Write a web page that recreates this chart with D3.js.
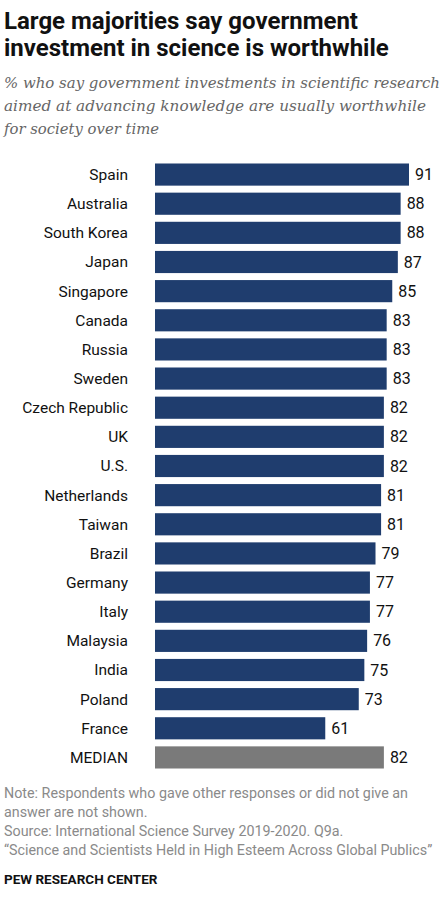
<!DOCTYPE html>
<html><head><meta charset="utf-8">
<script src="https://cdn.jsdelivr.net/npm/d3@7"></script>
<style>body{margin:0;background:#fff}</style>
</head><body>
<svg id="chart" width="443" height="900"></svg>
<script>
const countries = ['Spain','Australia','South Korea','Japan','Singapore','Canada','Russia','Sweden','Czech Republic','UK','U.S.','Netherlands','Taiwan','Brazil','Germany','Italy','Malaysia','India','Poland','France','MEDIAN'];
const values = [91,88,88,87,85,83,83,83,82,82,82,81,81,79,77,77,76,75,73,61,82];

const svg = d3.select('#chart');
const font = 'Roboto, "Liberation Sans", Arial, sans-serif';

const x = d3.scaleLinear().domain([0, 91]).range([155, 409]);
const y = d3.scaleBand().domain(countries).range([160, 772]).paddingInner(0.24).paddingOuter(0.12);

svg.selectAll('text.title').data(['Large majorities say government','investment in science is worthwhile'])
  .enter().append('text').attr('x', 4).attr('y', (d, i) => 29 + i * 27)
  .style('font', 'bold 24px ' + font).attr('fill', '#111').text(d => d);

const subLen = [436, 422, 155];
svg.selectAll('text.sub').data(['% who say government investments in scientific research','aimed at advancing knowledge are usually worthwhile','for society over time'])
  .enter().append('text').attr('x', 4).attr('y', (d, i) => 88 + i * 23)
  .style('font', 'italic 15px Georgia, "DejaVu Serif", serif').attr('fill', '#666')
  .attr('textLength', (d, i) => subLen[i]).attr('lengthAdjust', 'spacingAndGlyphs').text(d => d);

svg.selectAll('rect.bar').data(countries).enter().append('rect')
  .attr('x', x(0)).attr('y', d => y(d)).attr('height', y.bandwidth())
  .attr('width', (d, i) => x(values[i]) - x(0))
  .attr('fill', d => d === 'MEDIAN' ? '#7a7a7a' : '#1f3d6e');

svg.selectAll('text.cat').data(countries).enter().append('text')
  .attr('x', 128).attr('y', d => y(d) + y.bandwidth() / 2).attr('dy', '0.35em')
  .attr('text-anchor', 'end').style('font', '15.5px ' + font).attr('fill', '#111').text(d => d);

svg.selectAll('text.val').data(countries).enter().append('text')
  .attr('x', (d, i) => x(values[i]) + 6).attr('y', d => y(d) + y.bandwidth() / 2).attr('dy', '0.35em')
  .style('font', '16px ' + font).attr('fill', '#111').text((d, i) => values[i]);

svg.selectAll('text.note').data(['Note: Respondents who gave other responses or did not give an','answer are not shown.','Source: International Science Survey 2019-2020. Q9a.','\u201cScience and Scientists Held in High Esteem Across Global Publics\u201d'])
  .enter().append('text').attr('x', 4).attr('y', (d, i) => 798 + i * 19)
  .style('font', '14.3px ' + font).attr('fill', '#8a8a8a').text(d => d);

svg.append('text').attr('x', 4).attr('y', 884).style('font', 'bold 13.5px ' + font)
  .attr('fill', '#111').text('PEW RESEARCH CENTER');
</script>
</body></html>
